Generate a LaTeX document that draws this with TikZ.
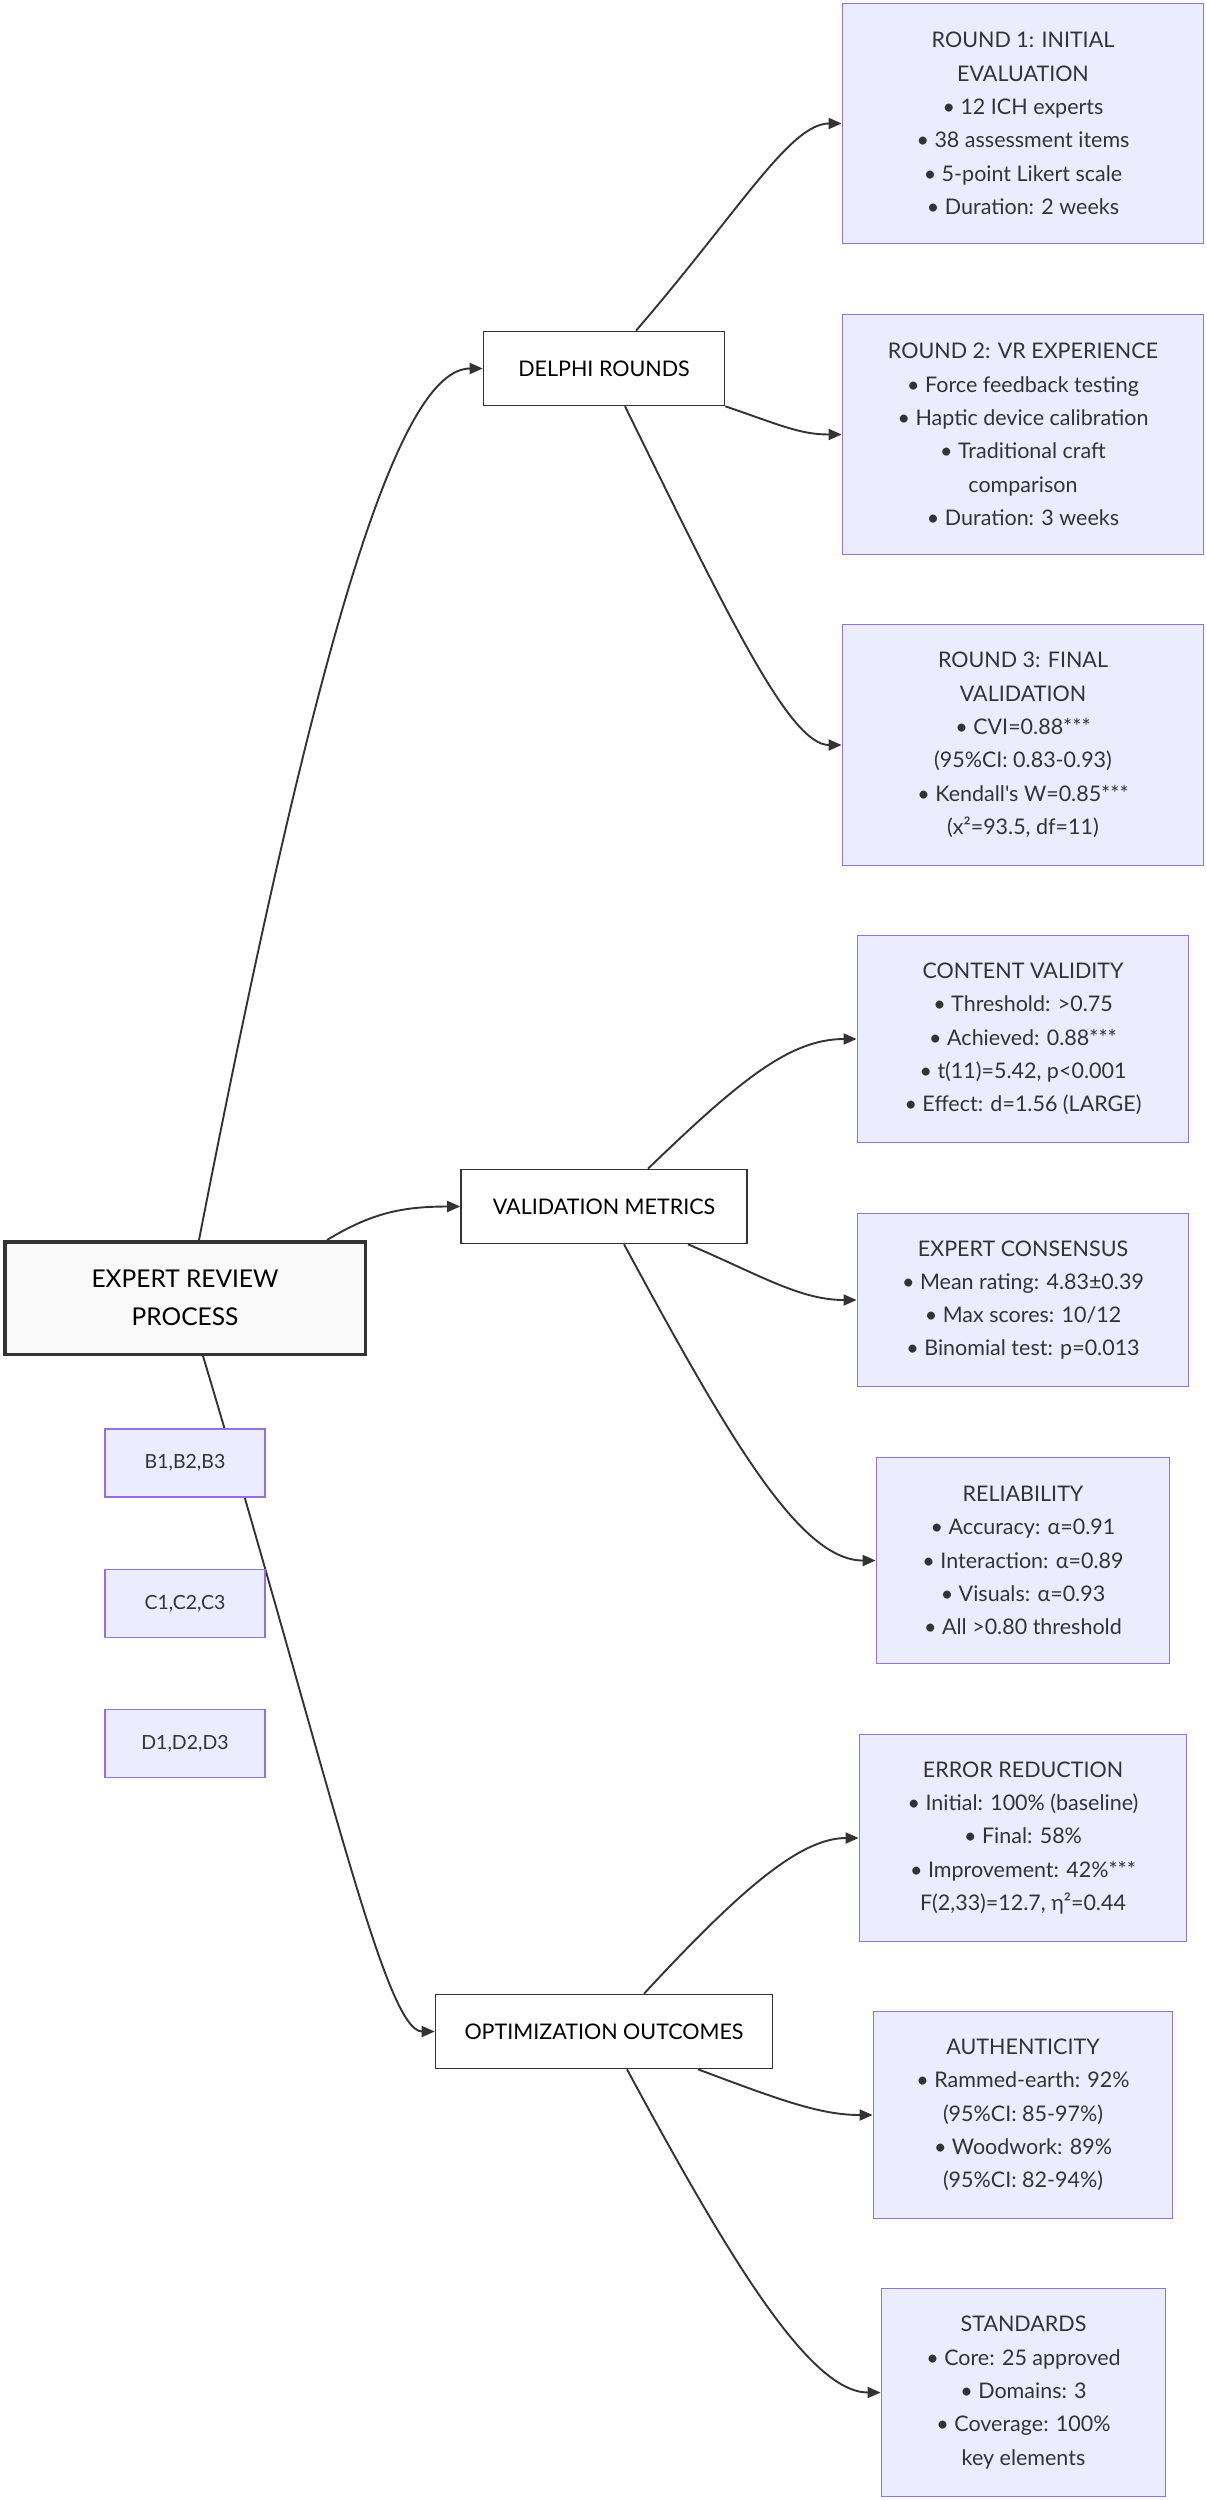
\documentclass[tikz,border=0pt]{standalone}
\usepackage{fontspec}
\setmainfont{Lato}[Ligatures=TeXOff]
\usetikzlibrary{arrows.meta}
\definecolor{boxfill}{HTML}{ECECFF}
\definecolor{boxline}{HTML}{9370DB}
\definecolor{ink}{HTML}{333333}
\definecolor{rootfill}{HTML}{F9F9F9}
\begin{document}
\begin{tikzpicture}[x=1pt,y=-1pt,
  txt/.style={align=center, inner sep=0pt, font=\fontsize{21.5}{33.3}\selectfont},
  leaf/.style={txt, draw=boxline, fill=boxfill, line width=1.8pt, text=ink},
  hub/.style={txt, draw=ink, fill=white, line width=1.6pt, text=black},
  rootbox/.style={align=center, inner sep=0pt, font=\fontsize{24.5}{38}\selectfont, draw=ink, fill=rootfill, line width=3.5pt, text=black},
  tag/.style={draw=boxline, fill=boxfill, line width=1.8pt, text=ink, inner sep=0pt, font=\fontsize{19.5}{24}\selectfont},
  link/.style={draw=ink, line width=1.9pt, -{Triangle[length=13pt,width=11pt]}}]
\fill[white] (0,0) rectangle (1207,2500);
\useasboundingbox (0,0) rectangle (1207,2500);

% root and hubs
\node[rootbox, minimum width=360.5, minimum height=112.5] (exp) at (185,1298) {EXPERT REVIEW\\PROCESS};
\node[hub, minimum width=241, minimum height=74] (dl) at (604,368.5) {DELPHI ROUNDS};
\node[hub, minimum width=286, minimum height=74] (vm) at (604,1206.5) {VALIDATION METRICS};
\node[hub, minimum width=337, minimum height=74] (opt) at (604,2031.5) {OPTIMIZATION OUTCOMES};

% leaves
\node[leaf, minimum width=361, minimum height=240] (r1) at (1023,123.5) {ROUND 1: INITIAL\\EVALUATION\\• 12 ICH experts\\• 38 assessment items\\• 5-point Likert scale\\• Duration: 2 weeks};
\node[leaf, minimum width=361, minimum height=240] (r2) at (1023,434.5) {ROUND 2: VR EXPERIENCE\\• Force feedback testing\\• Haptic device calibration\\• Traditional craft\\comparison\\• Duration: 3 weeks};
\node[leaf, minimum width=361, minimum height=241] (r3) at (1023,745) {ROUND 3: FINAL\\VALIDATION\\• CVI=0.88***\\(95\%CI: 0.83-0.93)\\• Kendall's W=0.85***\\(x²=93.5, df=11)};
\node[leaf, minimum width=331, minimum height=207] (cv) at (1023,1039) {CONTENT VALIDITY\\• Threshold: >0.75\\• Achieved: 0.88***\\• t(11)=5.42, p<0.001\\• Effect: d=1.56 (LARGE)};
\node[leaf, minimum width=331, minimum height=173] (ec) at (1023,1300) {EXPERT CONSENSUS\\• Mean rating: 4.83±0.39\\• Max scores: 10/12\\• Binomial test: p=0.013};
\node[leaf, minimum width=293, minimum height=206] (rel) at (1023,1560.5) {RELIABILITY\\• Accuracy: α=0.91\\• Interaction: α=0.89\\• Visuals: α=0.93\\• All >0.80 threshold};
\node[leaf, minimum width=327, minimum height=207] (er) at (1023,1838) {ERROR REDUCTION\\• Initial: 100\% (baseline)\\• Final: 58\%\\• Improvement: 42\%***\\F(2,33)=12.7, η²=0.44};
\node[leaf, minimum width=299, minimum height=207] (au) at (1023,2115) {AUTHENTICITY\\• Rammed-earth: 92\%\\(95\%CI: 85-97\%)\\• Woodwork: 89\%\\(95\%CI: 82-94\%)};
\node[leaf, minimum width=284, minimum height=208] (st) at (1023.5,2392.5) {STANDARDS\\• Core: 25 approved\\• Domains: 3\\• Coverage: 100\%\\key elements};

% connectors
\draw[link] ([xshift=14]exp.north) .. controls (320,620) and (400,368.5) .. (dl.west);
\draw[link] ([xshift=142]exp.north) .. controls (370,1214) and (400,1206.5) .. (vm.west);
\draw[link] ([xshift=18]exp.south) .. controls (330,1780) and (385,2031.5) .. (opt.west);

\draw[link] ([xshift=32]dl.north) .. controls (740,210) and (790,123.5) .. (r1.west);
\draw[link] (dl.south east) .. controls (780,425) and (800,434.5) .. (r2.west);
\draw[link] ([xshift=21]dl.south) .. controls (730,620) and (790,745) .. (r3.west);

\draw[link] ([xshift=44]vm.north) .. controls (740,1080) and (790,1039) .. (cv.west);
\draw[link] ([xshift=84]vm.south) .. controls (760,1275) and (800,1300) .. (ec.west);
\draw[link] ([xshift=20]vm.south) .. controls (730,1440) and (800,1560.5) .. (rel.west);

\draw[link] ([xshift=40]opt.north) .. controls (740,1890) and (800,1838) .. (er.west);
\draw[link] ([xshift=94]opt.south) .. controls (780,2100) and (820,2115) .. (au.west);
\draw[link] ([xshift=23]opt.south) .. controls (730,2260) and (810,2392.5) .. (st.west);

% tag boxes drawn above the connector
\node[tag, minimum width=160, minimum height=68] (tb) at (185,1463) {B1,B2,B3};
\node[tag, minimum width=160, minimum height=68] (tc) at (185,1603.5) {C1,C2,C3};
\node[tag, minimum width=160, minimum height=68] (td) at (185,1743.5) {D1,D2,D3};
\end{tikzpicture}
\end{document}
